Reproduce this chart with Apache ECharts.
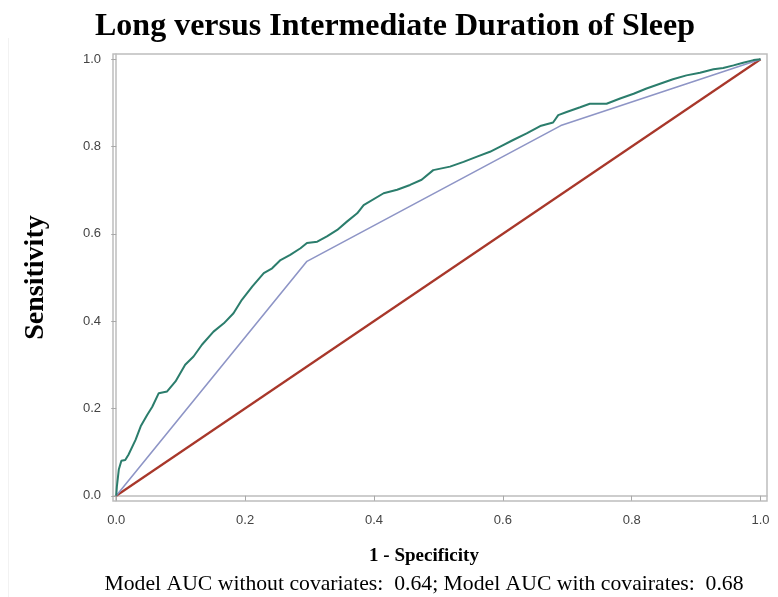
<!DOCTYPE html>
<html>
<head>
<meta charset="utf-8">
<script src="https://cdn.jsdelivr.net/npm/echarts@6/dist/echarts.min.js"></script>
<style>
  html, body { margin: 0; padding: 0; background: #fff; }
  #chart { width: 778px; height: 597px; }
</style>
</head>
<body>
<div id="chart"></div>
<script>
// tick positions shared by both axes
const tickValues = [0, 0.2, 0.4, 0.6, 0.8, 1.0];

// reference line
const chanceLine = [[0, 0], [1, 1]];

// model without covariates (few cut points)
const modelNoCov = [[0, 0], [0.296, 0.537], [0.69, 0.848], [1, 1]];

// model with covariates
const modelCovX = [
  0, 0.001, 0.004, 0.008, 0.014, 0.019, 0.03, 0.038, 0.048, 0.056,
  0.066, 0.079, 0.092, 0.107, 0.12, 0.133, 0.151, 0.167, 0.182, 0.195,
  0.211, 0.229, 0.242, 0.255, 0.27, 0.286, 0.296, 0.312, 0.327, 0.343,
  0.358, 0.374, 0.384, 0.415, 0.436, 0.456, 0.474, 0.492, 0.518, 0.539,
  0.56, 0.58, 0.596, 0.616, 0.637, 0.658, 0.678, 0.686, 0.699, 0.72,
  0.735, 0.761, 0.782, 0.803, 0.823, 0.844, 0.864, 0.885, 0.906, 0.927,
  0.942, 0.958, 0.973, 0.989, 1
];
const modelCovY = [
  0, 0.021, 0.06, 0.08, 0.082, 0.094, 0.128, 0.159, 0.185, 0.204,
  0.235, 0.239, 0.262, 0.3, 0.319, 0.346, 0.376, 0.395, 0.418, 0.449,
  0.479, 0.51, 0.521, 0.54, 0.552, 0.567, 0.579, 0.582, 0.594, 0.609,
  0.628, 0.647, 0.666, 0.693, 0.701, 0.712, 0.724, 0.746, 0.754, 0.765,
  0.777, 0.788, 0.8, 0.815, 0.83, 0.847, 0.855, 0.872, 0.879, 0.89,
  0.898, 0.898, 0.91, 0.921, 0.933, 0.944, 0.954, 0.963, 0.969, 0.977,
  0.98, 0.986, 0.992, 0.998, 1
];

const modelCov = modelCovX.map((x, i) => [x, modelCovY[i]]);

const axisCommon = {
  type: 'value',
  axisLine: { show: true, lineStyle: { color: '#bdbdbd', width: 1.5 } },
  axisTick: { show: true, length: 5, customValues: tickValues, lineStyle: { color: '#a8a8a8' } },
  axisLabel: {
    customValues: tickValues,
    color: '#444',
    fontFamily: 'Liberation Sans',
    fontSize: 13,
    formatter: v => v.toFixed(1)
  },
  splitLine: { show: false }
};

const chart = echarts.init(document.getElementById('chart'));
chart.setOption({
  animation: false,
  title: [
    {
      text: 'Long versus Intermediate Duration of Sleep',
      left: 390, top: 6, textAlign: 'center',
      textStyle: { fontFamily: 'Liberation Serif', fontWeight: 'bold', fontSize: 32, color: '#000' }
    },
    {
      text: '1 - Specificity',
      left: 419, top: 542, textAlign: 'center',
      textStyle: { fontFamily: 'Liberation Serif', fontWeight: 'bold', fontSize: 19, color: '#000' }
    },
    {
      text: 'Model AUC without covariates:  0.64; Model AUC with covairates:  0.68',
      left: 419, top: 568, textAlign: 'center',
      textStyle: { fontFamily: 'Liberation Serif', fontWeight: 'normal', fontSize: 21.7, color: '#000' }
    }
  ],
  grid: {
    left: 113, right: 11, top: 54, bottom: 96,
    show: true, borderColor: '#bdbdbd', borderWidth: 1.5, backgroundColor: '#fff'
  },
  xAxis: Object.assign({}, axisCommon, {
    min: -0.005, max: 1.01,
    axisLabel: Object.assign({}, axisCommon.axisLabel, { margin: 13 })
  }),
  yAxis: Object.assign({}, axisCommon, {
    min: -0.012, max: 1.012,
    name: 'Sensitivity',
    nameLocation: 'middle',
    nameGap: 63,
    nameTextStyle: { fontFamily: 'Liberation Serif', fontWeight: 'bold', fontSize: 28, color: '#000' },
    axisLabel: Object.assign({}, axisCommon.axisLabel, { margin: 12 })
  }),
  graphic: [
    { type: 'rect', shape: { x: 8, y: 38, width: 1, height: 559 }, style: { fill: '#f2f2f2' } }
  ],
  series: [
    {
      type: 'line', data: chanceLine, showSymbol: false,
      lineStyle: { color: '#a8372a', width: 2.2 }, z: 2
    },
    {
      type: 'line', data: modelNoCov, showSymbol: false,
      lineStyle: { color: '#8e95c6', width: 1.6 }, z: 3
    },
    {
      type: 'line', data: modelCov, showSymbol: false,
      lineStyle: { color: '#2b7d6c', width: 2 }, z: 4
    }
  ]
});
</script>
</body>
</html>
